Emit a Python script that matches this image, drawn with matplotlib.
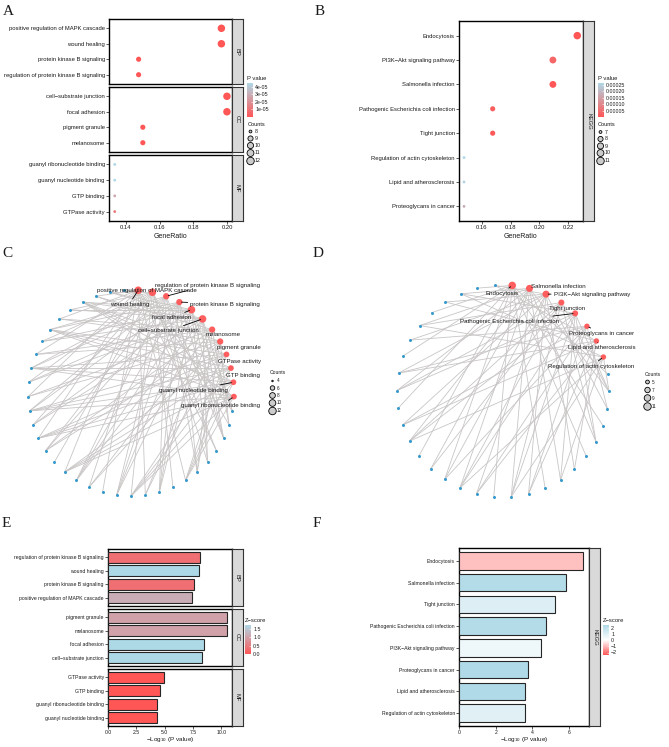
import numpy as np
import matplotlib
matplotlib.use('Agg')
import matplotlib.pyplot as plt
from matplotlib.colors import LinearSegmentedColormap, Normalize
from matplotlib.cm import ScalarMappable

plt.rcParams['font.family'] = ['Liberation Sans', 'DejaVu Sans']
plt.rcParams['mathtext.fontset'] = 'custom'
plt.rcParams['mathtext.rm'] = 'Liberation Sans'
plt.rcParams['mathtext.it'] = 'Liberation Sans:italic'

# ---------------- data ----------------
go_terms = ['positive regulation of MAPK cascade', 'wound healing',
            'protein kinase B signaling', 'regulation of protein kinase B signaling',
            'cell\u2212substrate junction', 'focal adhesion', 'pigment granule', 'melanosome',
            'guanyl ribonucleotide binding', 'guanyl nucleotide binding',
            'GTP binding', 'GTPase activity']
go_category = ['BP'] * 4 + ['CC'] * 4 + ['MF'] * 4
go_ratio = [0.1967, 0.1967, 0.1475, 0.1475, 0.2000, 0.2000, 0.1500, 0.1500,
            0.1333, 0.1333, 0.1333, 0.1333]
go_count = [12, 12, 9, 9, 12, 12, 9, 9, 8, 8, 8, 8]
go_logp = [7.42, 8.06, 7.60, 8.13, 8.33, 8.45, 10.50, 10.48, 4.36, 4.35, 4.57, 4.92]
go_zscore = [1.155, 1.732, 0.333, 0.333, 1.732, 1.732, 1.0, 1.0, 0.0, 0.0, 0.0, 0.0]

kegg_terms = ['Endocytosis', 'PI3K\u2212Akt signaling pathway', 'Salmonella infection',
              'Pathogenic Escherichia coli infection', 'Tight junction',
              'Regulation of actin cytoskeleton', 'Lipid and atherosclerosis',
              'Proteoglycans in cancer']
kegg_ratio = [0.2265, 0.2095, 0.2095, 0.1675, 0.1675, 0.1475, 0.1475, 0.1475]
kegg_count = [11, 10, 10, 8, 8, 7, 7, 7]
kegg_logp = [6.76, 4.47, 5.83, 4.74, 5.23, 3.58, 3.60, 3.76]
kegg_zscore = [-0.9, 0.5, 2.2, 2.2, 1.0, 0.9, 2.3, 2.3]

# network C: term order around the circle and gene membership (33 genes)
net_go_terms = ['wound healing', 'positive regulation of MAPK cascade',
                'regulation of protein kinase B signaling', 'protein kinase B signaling',
                'focal adhesion', 'cell\u2212substrate junction', 'melanosome', 'pigment granule',
                'GTPase activity', 'GTP binding', 'guanyl nucleotide binding',
                'guanyl ribonucleotide binding']
net_go_genes = [
    [0, 3, 6, 9, 12, 15, 18, 21, 24, 27, 30, 32],
    [1, 3, 4, 7, 10, 13, 16, 19, 22, 25, 28, 31],
    [2, 5, 8, 11, 14, 17, 20, 23, 26],
    [2, 5, 8, 11, 14, 17, 20, 23, 26],
    [0, 2, 4, 8, 11, 14, 19, 22, 25, 28, 29, 31],
    [0, 2, 4, 8, 11, 14, 19, 22, 25, 28, 29, 31],
    [1, 5, 9, 13, 17, 21, 24, 27, 30],
    [1, 5, 9, 13, 17, 21, 24, 27, 30],
    [6, 10, 15, 18, 20, 23, 26, 29],
    [6, 10, 15, 18, 20, 23, 26, 29],
    [6, 10, 15, 18, 20, 23, 26, 29],
    [6, 10, 15, 18, 20, 23, 26, 29],
]
net_go_ngenes = 33

# network D (30 genes)
net_kegg_terms = ['Endocytosis', 'Salmonella infection', 'PI3K\u2212Akt signaling pathway',
                  'Tight junction', 'Pathogenic Escherichia coli infection',
                  'Proteoglycans in cancer', 'Lipid and atherosclerosis',
                  'Regulation of actin cytoskeleton']
net_kegg_genes = [
    [0, 3, 5, 8, 11, 14, 16, 19, 22, 25, 28],
    [1, 4, 7, 10, 13, 15, 17, 20, 24, 27],
    [2, 6, 9, 12, 14, 18, 21, 23, 26, 29],
    [1, 4, 10, 13, 15, 17, 20, 24],
    [1, 4, 7, 10, 13, 17, 20, 27],
    [2, 9, 12, 14, 18, 21, 23],
    [6, 9, 12, 18, 21, 26, 29],
    [1, 7, 10, 13, 17, 24, 27],
]
net_kegg_ngenes = 30

# ---------------- style ----------------
RED = '#FF5656'
LIGHTBLUE = '#ADD8E6'
STRIP = '#D9D9D9'
EDGE = '#C9C5C5'
GENE = '#3399CC'
TXT = '#1A1A1A'

pval_cmap = LinearSegmentedColormap.from_list('pv', [RED, LIGHTBLUE])
z2_cmap = LinearSegmentedColormap.from_list('z2', [RED, 'white', LIGHTBLUE])

W, H = 669, 747
fig = plt.figure(figsize=(W / 100, H / 100), dpi=100)


def px_axes(x0, y0, x1, y1, **kw):
    return fig.add_axes([x0 / W, 1 - y1 / H, (x1 - x0) / W, (y1 - y0) / H], **kw)


ov = px_axes(0, 0, W, H, zorder=10)
ov.set_xlim(0, W)
ov.set_ylim(H, 0)
ov.axis('off')


def size_pt2(v, vmin, vmax, dmin, dmax):
    v = np.asarray(v, dtype=float)
    d = dmin + (dmax - dmin) * np.sqrt(np.clip((v - vmin) / (vmax - vmin), 0, 1))
    return (d * 0.72) ** 2


def frame(ax):
    for sp in ax.spines.values():
        sp.set_linewidth(1.0)
        sp.set_color('black')
    ax.tick_params(length=2, width=0.5, pad=1, labelsize=4.2, colors=TXT)


def strip(x0, y0, x1, y1, label):
    s = px_axes(x0, y0, x1, y1)
    s.set_facecolor(STRIP)
    s.set_xticks([])
    s.set_yticks([])
    for sp in s.spines.values():
        sp.set_linewidth(0.8)
        sp.set_color('#333333')
    s.text(0.5, 0.5, label, rotation=-90, ha='center', va='center',
           fontsize=4.2, color=TXT, transform=s.transAxes)


def colorbar(x0, y0, x1, y1, cmap, norm, ticks, labels, title):
    cax = px_axes(x0, y0, x1, y1)
    cb = fig.colorbar(ScalarMappable(norm=norm, cmap=cmap), cax=cax, ticks=ticks)
    cb.outline.set_visible(False)
    cb.ax.set_yticklabels(labels)
    cb.ax.tick_params(length=1.5, width=0.4, color='white', direction='in',
                      pad=1.5, labelsize=3.8, labelcolor=TXT)
    ov.text(x0, y0 - 4, title, fontsize=4.2, va='center', ha='left', color=TXT)


def size_legend(x, y_title, values, ys, vmin, vmax, dmin, dmax, fs=3.8):
    ov.text(x - 3, y_title, 'Counts', fontsize=fs + 0.3, va='center', ha='left', color=TXT)
    ov.scatter([x] * len(values), ys, s=size_pt2(values, vmin, vmax, dmin, dmax),
               facecolor='#CCCCCC', edgecolor='black', linewidths=0.6)
    for v, yy in zip(values, ys):
        ov.text(x + 4, yy, str(v), fontsize=fs, va='center', ha='left', color=TXT)


def dot_panel(x0, x1, facets, terms, cats, ratio, count, pval, cmin, cmax,
              xlim, xticks, xlabels):
    norm = Normalize(min(pval), max(pval))
    for k, (cat, y0, y1) in enumerate(facets):
        idx = [i for i, c in enumerate(cats) if c == cat]
        ax = px_axes(x0, y0, x1, y1)
        ypos = np.arange(len(idx), 0, -1)
        ax.scatter([ratio[i] for i in idx], ypos,
                   s=size_pt2([count[i] for i in idx], cmin, cmax, 2.8, 7.5),
                   c=[pval[i] for i in idx], cmap=pval_cmap, norm=norm,
                   linewidths=0, zorder=3)
        ax.set_ylim(0.4, len(idx) + 0.6)
        ax.set_yticks(ypos)
        ax.set_yticklabels([terms[i] for i in idx])
        ax.set_xlim(xlim)
        ax.set_xticks(xticks)
        if k == len(facets) - 1:
            ax.set_xticklabels(xlabels)
        else:
            ax.tick_params(axis='x', bottom=False, labelbottom=False)
        frame(ax)
        strip(x1, y0, x1 + 11, y1, cat)
    return norm


def bar_panel(x0, x1, facets, terms, cats, logp, z, cmap, znorm, xlim, xticks, xlabels):
    for k, (cat, y0, y1) in enumerate(facets):
        idx = [i for i, c in enumerate(cats) if c == cat]
        idx = sorted(idx, key=lambda i: -logp[i])
        ax = px_axes(x0, y0, x1, y1)
        ypos = np.arange(len(idx), 0, -1)
        ax.barh(ypos, [logp[i] for i in idx], height=0.8,
                color=[cmap(znorm(z[i])) for i in idx],
                edgecolor='#262626', linewidth=0.8, zorder=3)
        ax.set_ylim(0.4, len(idx) + 0.6)
        ax.set_yticks(ypos)
        ax.set_yticklabels([terms[i] for i in idx])
        ax.set_xlim(xlim)
        ax.set_xticks(xticks)
        if k == len(facets) - 1:
            ax.set_xticklabels(xlabels)
        else:
            ax.tick_params(axis='x', bottom=False, labelbottom=False)
        frame(ax)
        ax.tick_params(labelsize=3.7)
        strip(x1, y0, x1 + 11, y1, cat)


def network(x0, y0, x1, y1, cx, cy, r, terms, gene_sets, counts, n_genes, start_deg,
            offsets, connect, vmin, vmax):
    ax = px_axes(x0, y0, x1, y1)
    ax.set_xlim((x0 - cx) / r, (x1 - cx) / r)
    ax.set_ylim((cy - y1) / r, (cy - y0) / r)
    ax.axis('off')
    nt = len(terms)
    step = 360.0 / (nt + n_genes)
    ang = np.deg2rad(start_deg - step * np.arange(nt + n_genes))
    xs, ys = np.cos(ang), np.sin(ang)
    tx, ty, gx, gy = xs[:nt], ys[:nt], xs[nt:], ys[nt:]
    for i, genes in enumerate(gene_sets):
        for g in genes:
            ax.plot([tx[i], gx[g]], [ty[i], gy[g]], color=EDGE, lw=0.6, zorder=1,
                    solid_capstyle='round')
    ax.scatter(gx, gy, s=(3.0 * 0.72) ** 2, color=GENE, linewidths=0, zorder=2)
    ax.scatter(tx, ty, s=size_pt2(counts, vmin, vmax, 1.5, 7.5), color=RED,
               alpha=0.95, linewidths=0, zorder=3)
    for i, name in enumerate(terms):
        dx, dy = offsets[i]
        props = dict(arrowstyle='-', color='black', lw=0.6, shrinkA=0, shrinkB=1.5) \
            if connect[i] else None
        ax.annotate(name, (tx[i], ty[i]), xytext=(dx, -dy), textcoords='offset pixels',
                    ha='center', va='center', fontsize=4.4, color=TXT,
                    arrowprops=props, zorder=4)


# ---------------- panel A ----------------
go_p = [10 ** (-v) for v in go_logp]
normA = dot_panel(109, 232, [('BP', 19, 84), ('CC', 87, 152), ('MF', 155, 221)],
                  go_terms, go_category, go_ratio, go_count, go_p, 8, 12,
                  (0.1299, 0.2030), [0.14, 0.16, 0.18, 0.20],
                  ['0.14', '0.16', '0.18', '0.20'])
ov.text(170.5, 236, 'GeneRatio', fontsize=5, ha='center', va='center', color=TXT)
colorbar(247, 83, 253, 117, pval_cmap, normA, [1e-5, 2e-5, 3e-5, 4e-5],
         ['1e-05', '2e-05', '3e-05', '4e-05'], 'P value')
size_legend(250.5, 124, [8, 9, 10, 11, 12], [131.5, 138.5, 145.5, 153, 161], 8, 12, 2.8, 7.5)

# ---------------- panel B ----------------
kegg_p = [10 ** (-v) for v in kegg_logp]
normB = dot_panel(459, 583, [('KEGG', 21, 221)], kegg_terms, ['KEGG'] * 8,
                  kegg_ratio, kegg_count, kegg_p, 7, 11,
                  (0.144, 0.2305), [0.16, 0.18, 0.20, 0.22],
                  ['0.16', '0.18', '0.20', '0.22'])
ov.text(521, 236, 'GeneRatio', fontsize=5, ha='center', va='center', color=TXT)
colorbar(598, 83, 604, 117, pval_cmap, normB, [5e-5, 1e-4, 1.5e-4, 2e-4, 2.5e-4],
         ['0.00005', '0.00010', '0.00015', '0.00020', '0.00025'], 'P value')
size_legend(600.5, 124, [7, 8, 9, 10, 11], [132, 139, 146, 153, 161], 7, 11, 2.8, 7.5)

# ---------------- panel C ----------------
go_lookup = dict(zip(go_terms, go_count))
network(0, 262, 318, 512, 131, 393, 103, net_go_terms, net_go_genes,
        [go_lookup[t] for t in net_go_terms], net_go_ngenes, 86,
        [(-9, 14), (-6, -2), (41, -11), (46, 2), (-20, 8), (-34, 12),
         (11, 5), (19, 6), (13, 7), (12, 7), (-40, 8), (-13, 9)],
        [True, False, True, True, True, True, False, False, False, False, True, True],
        4, 12)
size_legend(272.5, 373, [4, 6, 8, 10, 12], [381, 388, 395.5, 403, 411], 4, 12, 1.5, 7.5, fs=3.3)

# ---------------- panel D ----------------
kegg_lookup = dict(zip(kegg_terms, kegg_count))
network(318, 262, 669, 512, 503, 391, 106, net_kegg_terms, net_kegg_genes,
        [kegg_lookup[t] for t in net_kegg_terms], net_kegg_ngenes, 85,
        [(-10, 8), (29, -2), (46, 0), (6, 6), (-66, 8), (15, 7), (5, 7), (-12, 9)],
        [True, False, True, False, True, True, True, True],
        4, 11)
size_legend(647.5, 375, [5, 7, 9, 11], [382, 390, 398, 406.5], 4, 11, 1.5, 7.5, fs=3.3)

# ---------------- panel E ----------------
znormE = Normalize(0, max(go_zscore))
bar_panel(108, 232, [('BP', 549, 606), ('CC', 609, 666), ('MF', 669, 726)],
          go_terms, go_category, go_logp, go_zscore, pval_cmap, znormE,
          (0, 10.95), [0, 2.5, 5, 7.5, 10], ['0.0', '2.5', '5.0', '7.5', '10.0'])
ov.text(170, 739, '\u2212Log$_{10}$ (P value)', fontsize=4.6, ha='center', va='center', color=TXT)
colorbar(245, 625, 251, 654, pval_cmap, znormE, [0, 0.5, 1.0, 1.5],
         ['0.0', '0.5', '1.0', '1.5'], 'Z\u2212score')

# ---------------- panel F ----------------
znormF = Normalize(-2.4, 2.4)
bar_panel(459, 589, [('KEGG', 548, 726)], kegg_terms, ['KEGG'] * 8,
          kegg_logp, kegg_zscore, z2_cmap, znormF,
          (0, 7.08), [0, 2, 4, 6], ['0', '2', '4', '6'])
ov.text(524, 739, '\u2212Log$_{10}$ (P value)', fontsize=4.6, ha='center', va='center', color=TXT)
colorbar(603, 625, 609, 655, z2_cmap, znormF, [-2, -1, 0, 1, 2],
         ['\u22122', '\u22121', '0', '1', '2'], 'Z\u2212score')

# ---------------- panel letters ----------------
for letter, x, y in [('A', 3, 15), ('B', 315, 15), ('C', 2, 257),
                     ('D', 313, 257), ('E', 2, 527), ('F', 313, 527)]:
    ov.text(x, y, letter, fontfamily='Liberation Serif', fontsize=11,
            ha='left', va='baseline', color=TXT)

fig.savefig('out.png', dpi=100)
